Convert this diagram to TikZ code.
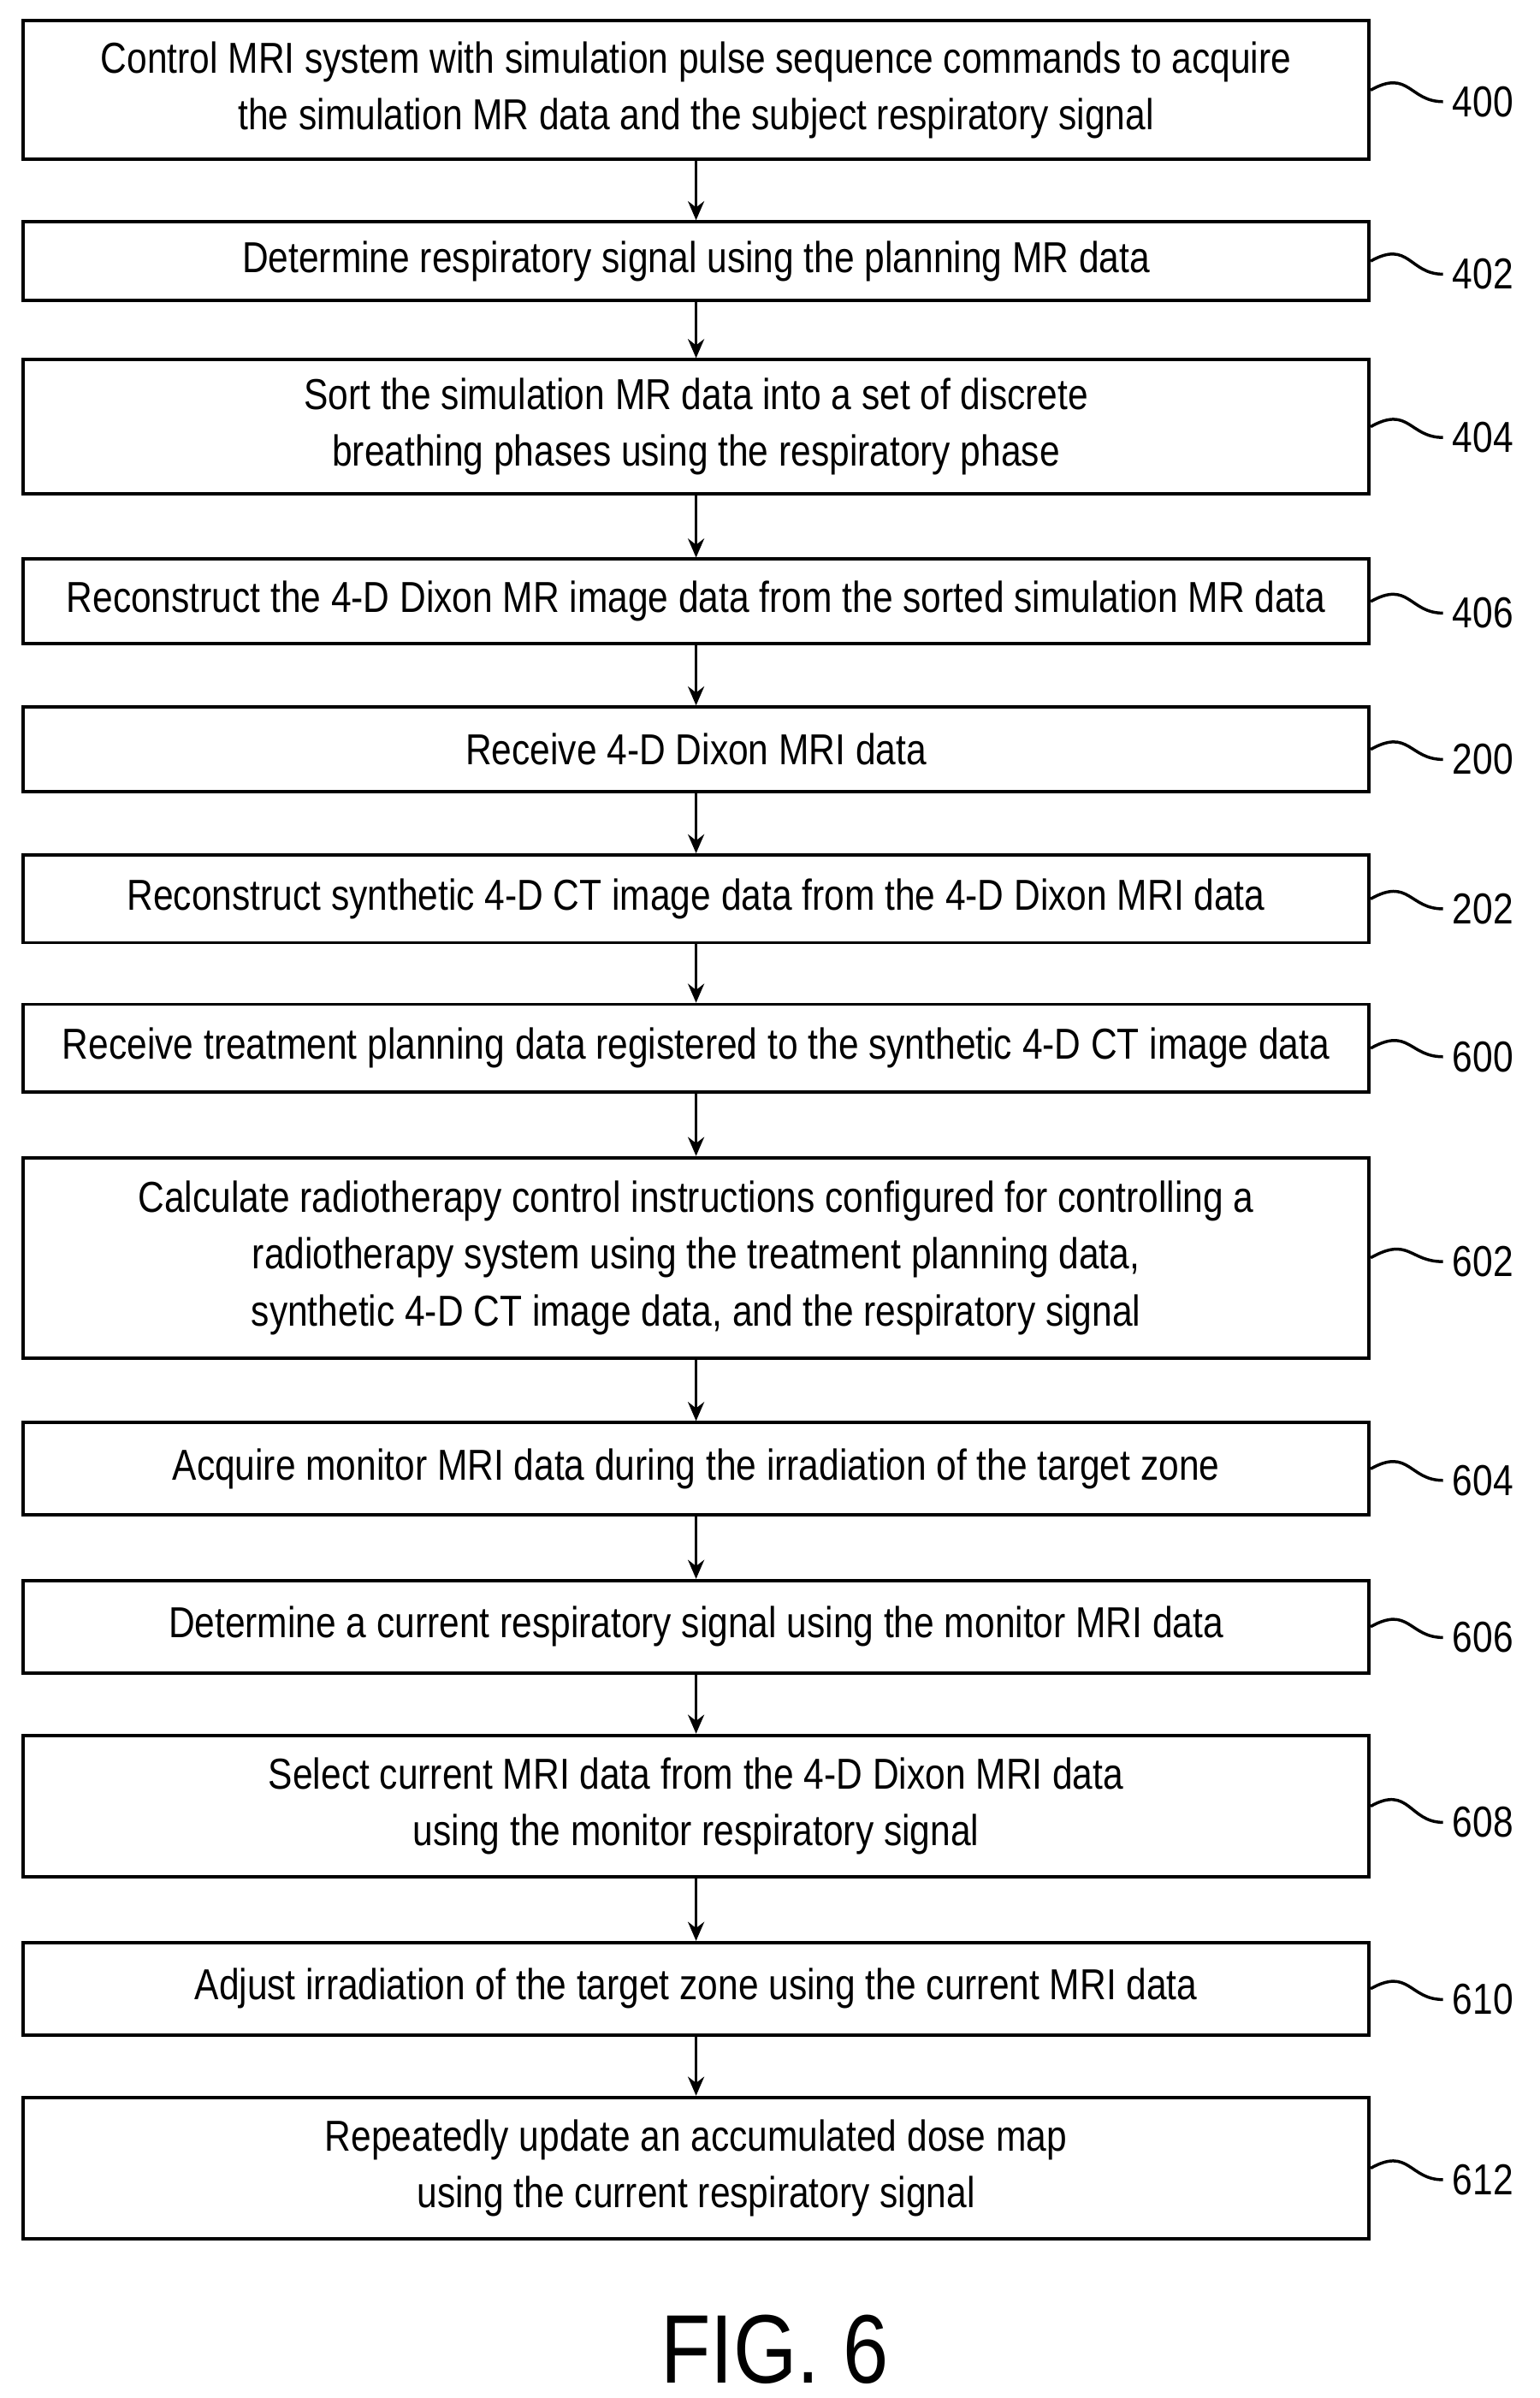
\documentclass[tikz,border=0pt]{standalone}
\usepackage{fontspec}
\setmainfont{Liberation Sans}[FakeStretch=0.84]
\usetikzlibrary{arrows.meta, positioning}
\begin{document}
\begin{tikzpicture}[x=0.02cm, y=-0.02cm,
            box/.style={draw, line width=1.2pt, minimum width=874*0.02cm, inner sep=0pt,
                align=center, font=\fontsize{16}{21}\selectfont},
            flow/.style={-{Stealth[length=7pt, width=6pt]}, line width=1.1pt},
            lead/.style={line width=1.1pt},
            ref/.style={font=\fontsize{16}{18}\selectfont, anchor=west}
        ]
        \useasboundingbox (0,0) rectangle (1000,1556.7);

        % Steps (manual layout to match figure)
        \node[box, minimum height=90*0.02cm] (s400) at (452, 58.5) {Control MRI system with simulation pulse sequence commands to acquire\\the simulation MR data and the subject respiratory signal};
        \node[box, minimum height=51*0.02cm] (s402) at (452, 169.5) {Determine respiratory signal using the planning MR data};
        \node[box, minimum height=87*0.02cm] (s404) at (452, 277) {Sort the simulation MR data into a set of discrete\\breathing phases using the respiratory phase};
        \node[box, minimum height=55*0.02cm] (s406) at (452, 390.5) {Reconstruct the 4-D Dixon MR image data from the sorted simulation MR data};
        \node[box, minimum height=55*0.02cm] (s200) at (452, 486.5) {Receive 4-D Dixon MRI data};
        \node[box, minimum height=57*0.02cm] (s202) at (452, 583.5) {Reconstruct synthetic 4-D CT image data from the 4-D Dixon MRI data};
        \node[box, minimum height=57*0.02cm] (s600) at (452, 680.5) {Receive treatment planning data registered to the synthetic 4-D CT image data};
        \node[box, minimum height=130*0.02cm] (s602) at (452, 816.5) {Calculate radiotherapy control instructions configured for controlling a\\radiotherapy system using the treatment planning data,\\synthetic 4-D CT image data, and the respiratory signal};
        \node[box, minimum height=60*0.02cm] (s604) at (452, 953.5) {Acquire monitor MRI data during the irradiation of the target zone};
        \node[box, minimum height=60*0.02cm] (s606) at (452, 1056) {Determine a current respiratory signal using the monitor MRI data};
        \node[box, minimum height=92*0.02cm] (s608) at (452, 1172.5) {Select current MRI data from the 4-D Dixon MRI data\\using the monitor respiratory signal};
        \node[box, minimum height=60*0.02cm] (s610) at (452, 1291) {Adjust irradiation of the target zone using the current MRI data};
        \node[box, minimum height=92*0.02cm] (s612) at (452, 1407.5) {Repeatedly update an accumulated dose map\\using the current respiratory signal};

        % Reference numerals
        \foreach \n/\y in {400/66, 402/178, 404/284, 406/398, 200/493, 202/590, 600/686,
                602/819, 604/961, 606/1063, 608/1183, 610/1298, 612/1415}{
            \node[ref] (r\n) at (937, \y) {\n};
            \draw[lead] (s\n.east) .. controls +(25,-14) and +(-22,0) .. (r\n.west);
        }

        % Arrows
        \foreach \a/\b in {400/402, 402/404, 404/406, 406/200, 200/202, 202/600, 600/602,
                602/604, 604/606, 606/608, 608/610, 610/612}{
            \draw[flow] (s\a.south) -- (s\b.north);
        }

        \node[font=\fontsize{36}{38}\selectfont] (fig) at (503, 1525) {FIG. 6};
    \end{tikzpicture}
\end{document}
